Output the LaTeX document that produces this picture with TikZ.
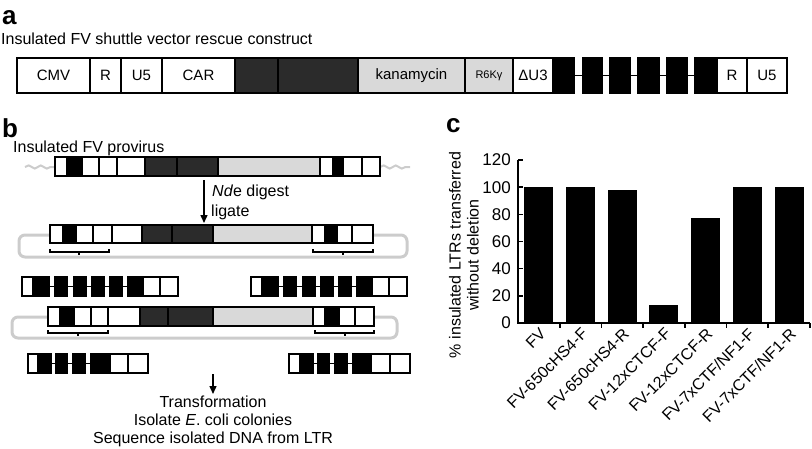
\documentclass[tikz,border=0pt]{standalone}
\usepackage{fontspec}
\setmainfont{Liberation Sans}
\usetikzlibrary{arrows.meta,decorations.pathmorphing}
\definecolor{dk}{gray}{0.17}
\definecolor{lt}{gray}{0.85}
\definecolor{lp}{gray}{0.80}
\newcommand\cells[3]{\foreach \xa/\xb/\cc in {#3}{\filldraw[fill=\cc,draw=black,line width=1.6pt] (\xa,#1) rectangle (\xb,#2);}}
\newcommand\blks[3]{\foreach \xa/\xb in {#3}{\fill[black] (\xa,#1-0.8) rectangle (\xb,#2+0.8);}}
\newcommand\gaps[2]{\foreach \xa/\xb in {#2}{\draw[line width=1.5pt] (\xa,#1) -- (\xb,#1);}}
\newcommand\bracketmark[4]{\draw[line width=1.4pt] (#1,#4-3) -- (#1,#4) -- (#2,#4) -- (#2,#4-3) (#3,#4) -- (#3,#4+3);}
\begin{document}
\begin{tikzpicture}[x=1pt,y=-1pt,
  txt/.style={font=\fontsize{15}{18}\selectfont,inner sep=0pt},
  head/.style={font=\fontsize{16}{18}\selectfont,inner sep=0pt},
  small/.style={font=\fontsize{11}{13}\selectfont,inner sep=0pt},
  tick/.style={font=\fontsize{17}{17}\selectfont,inner sep=0pt,anchor=east},
  xlab/.style={font=\fontsize{16}{16}\selectfont,inner sep=0pt,anchor=east,rotate=45},
  plbl/.style={font=\fontsize{26}{26}\selectfont\bfseries,inner sep=0pt,anchor=base west},
  loopline/.style={draw=lp,line width=3pt,rounded corners=6pt},
  wavy/.style={draw=lp,line width=2pt,decorate,decoration={snake,amplitude=1.6pt,segment length=12pt}},
  arr/.style={line width=1.4pt,-{Triangle[length=8pt,width=7pt]}}]
\useasboundingbox (0,0) rectangle (812,448);
% ---------------- panel a
\node[plbl] (la) at (2,24) {a};
\node[head,anchor=base west] (ta) at (1,44) {Insulated FV shuttle vector rescue construct};
\cells{58}{93}{17/90/white, 90/121/white, 121/162/white, 162/235/white, 235/278/dk, 278/358/dk, 358/465/lt, 465/513/lt, 513/553/white, 717/747/white, 747/787/white}
\fill[black] (553,57.2) rectangle (717,93.8);
\foreach \ga/\gb in {575/582, 603/609, 631/637, 660/666, 688/694}{
  \fill[white] (\ga,57.2) rectangle (\gb,93.8);
  \draw[line width=1.5pt] (\ga,75.5) -- (\gb,75.5);
}
\node[txt] (cmv) at (53.5,75.5) {CMV};
\node[txt] (r1) at (105.5,75.5) {R};
\node[txt] (u51) at (141.5,75.5) {U5};
\node[txt] (car) at (198.5,75.5) {CAR};
\node[txt] (kan) at (411.5,75.5) {kanamycin};
\node[small] (r6k) at (489,75.5) {R6Kγ};
\node[txt] (du3) at (533,75.5) {ΔU3};
\node[txt] (r2) at (732,75.5) {R};
\node[txt] (u52) at (767,75.5) {U5};
% ---------------- panel b
\node[plbl] (lb) at (2,137) {b};
\node[head,anchor=base west] (tb) at (13,152) {Insulated FV provirus};
\draw[wavy] (25,167) -- (55,167);
\draw[wavy] (380,167) -- (410,167);
\cells{157}{176}{55/67/white, 67/82/black, 82/99/white, 99/117/white, 117/145/white, 145/177/dk, 177/218/dk, 218/320/lt, 320/333/white, 333/343/black, 343/362/white, 362/380/white}
\coordinate (a1s) at (204,180);
\coordinate (a1e) at (204,223);
\draw[arr] (a1s) -- (a1e);
\node[head,anchor=base west] (nde) at (212,196) {\textit{Nd}e digest};
\node[head,anchor=base west] (lig) at (211,216) {ligate};
% loop 1
\draw[loopline] (52,235) -- (19,235) -- (19,257) -- (407,257) -- (407,235) -- (371,235);
\cells{225}{243}{50/63/white, 63/76/black, 76/93/white, 93/112/white, 112/142/white, 142/172/dk, 172/213/dk, 213/312/lt, 312/325/white, 325/337/black, 337/352/white, 352/373/white}
\bracketmark{50}{109}{79}{252}
\bracketmark{313}{373}{343}{252}
% row 1
\cells{277}{296}{22/33/white, 143/160/white, 160/178/white}
\gaps{286.5}{50/54, 68/73, 87/91, 105/109, 123/127}
\blks{277}{296}{33/50, 54/68, 73/87, 91/105, 109/123, 127/143}
\cells{277}{296}{251/262/white, 372/389/white, 389/407/white}
\gaps{286.5}{279/283, 297/302, 316/320, 334/338, 352/356}
\blks{277}{296}{262/279, 283/297, 302/316, 320/334, 338/352, 356/372}
% loop 2
\draw[loopline] (50,317) -- (12,317) -- (12,338) -- (397,338) -- (397,317) -- (372,317);
\cells{307}{326}{48/60/white, 60/74/black, 74/91/white, 91/108/white, 108/140/white, 140/168/dk, 168/213/dk, 213/313/lt, 313/325/white, 325/339/black, 339/355/white, 355/374/white}
\bracketmark{48}{108}{78}{333}
\bracketmark{315}{374}{345}{333}
% row 2
\cells{354}{373}{28/38/white, 110/128/white, 128/148/white}
\gaps{363.5}{52/55, 68/72, 86/90}
\blks{354}{373}{38/52, 55/68, 72/86, 90/110}
\cells{354}{373}{289/300/white, 371/390/white, 390/410/white}
\gaps{363.5}{314/317, 330/334, 348/352}
\blks{354}{373}{300/314, 317/330, 334/348, 352/371}
\coordinate (a2s) at (213,374);
\coordinate (a2e) at (213,394);
\draw[arr] (a2s) -- (a2e);
\node[head,anchor=base] (t1) at (213,407) {Transformation};
\node[head,anchor=base] (t2) at (213,425) {Isolate \textit{E}. coli colonies};
\node[head,anchor=base] (t3) at (213,443) {Sequence isolated DNA from LTR};
% ---------------- panel c
\node[plbl] (lc) at (446,132) {c};
\foreach \i/\v in {1/100, 2/100, 3/98, 4/13, 5/77, 6/100, 7/100}{
  \pgfmathsetmacro\cx{518+41.7*(\i-0.5)}
  \fill ({\cx-14.5},323) rectangle ({\cx+14.5},{323-\v*1.358});
}
\draw[line width=1.8pt] (518,{323-120*1.358}) -- (518,323) -- (810,323);
\foreach \k in {1,...,7}{\draw[line width=1.6pt] ({518+41.7*\k},323) -- ({518+41.7*\k},328);}
\foreach \v in {0,20,...,120}{\draw[line width=1.6pt] (518,{323-\v*1.358}) -- (523,{323-\v*1.358});}
\node[tick] (y0) at (511,323) {0};
\node[tick] (y20) at (511,{323-20*1.358}) {20};
\node[tick] (y40) at (511,{323-40*1.358}) {40};
\node[tick] (y60) at (511,{323-60*1.358}) {60};
\node[tick] (y80) at (511,{323-80*1.358}) {80};
\node[tick] (y100) at (511,{323-100*1.358}) {100};
\node[tick] (y120) at (511,{323-120*1.358}) {120};
\node[font=\fontsize{16}{18}\selectfont,inner sep=0pt,rotate=90,align=center] (ylab) at (464,255) {\% insulated LTRs transferred\\without deletion};
\node[xlab] (x1) at (543,331) {FV};
\node[xlab] (x2) at (584.7,331) {FV-650cHS4-F};
\node[xlab] (x3) at (626.4,331) {FV-650cHS4-R};
\node[xlab] (x4) at (668.1,331) {FV-12xCTCF-F};
\node[xlab] (x5) at (709.8,331) {FV-12xCTCF-R};
\node[xlab] (x6) at (751.5,331) {FV-7xCTF/NF1-F};
\node[xlab] (x7) at (793.2,331) {FV-7xCTF/NF1-R};
\end{tikzpicture}
\end{document}
